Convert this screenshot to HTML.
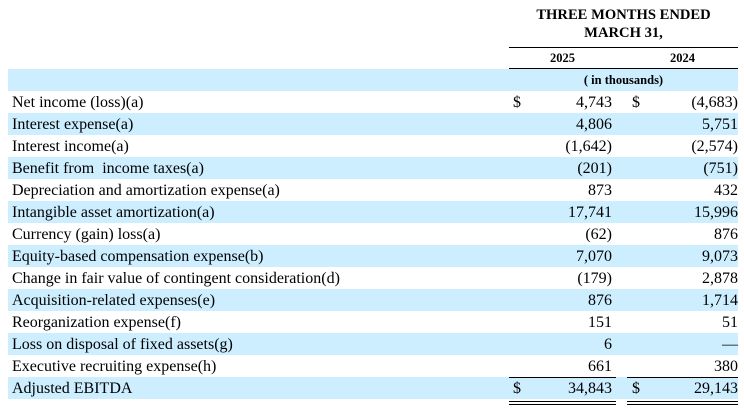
<!DOCTYPE html>
<html><head><meta charset="utf-8"><style>
body{margin:0;width:744px;height:418px;background:#fff;font-family:"Liberation Serif",serif;font-size:16px;color:#000;position:relative;overflow:hidden}
.a{position:absolute}
.row{position:absolute;left:8px;width:730px;height:22px;line-height:23px}
.b{background:#cceeff}
.lbl{position:absolute;left:4px}
.d1{position:absolute;left:505px}
.v1{position:absolute;right:126px}
.d2{position:absolute;left:624px}
.v2{position:absolute;right:0}
.h{font-weight:bold;text-align:center}
.ln{position:absolute;height:1px;background:#000}
</style></head><body>
<div class="a h" style="left:509px;width:229px;top:6px;font-size:14.6px;line-height:18px">THREE MONTHS ENDED<br>MARCH 31,</div>
<div class="ln" style="left:509px;width:229px;top:47px"></div>
<div class="a h" style="left:509px;width:107px;top:48px;line-height:20px;font-size:12.5px">2025</div>
<div class="a h" style="left:627px;width:111px;top:48px;line-height:20px;font-size:12.5px">2024</div>
<div class="ln" style="left:509px;width:229px;top:68px"></div>
<div class="row b" style="top:69px"><span class="a h" style="left:501px;width:229px;font-size:12.5px">( in thousands)</span></div>
<div class="row" style="top:91px"><span class="lbl">Net income (loss)(a)</span><span class="d1">$</span><span class="v1">4,743</span><span class="d2">$</span><span class="v2">(4,683)</span></div>
<div class="row b" style="top:113px"><span class="lbl">Interest expense(a)</span><span class="v1">4,806</span><span class="v2">5,751</span></div>
<div class="row" style="top:135px"><span class="lbl">Interest income(a)</span><span class="v1">(1,642)</span><span class="v2">(2,574)</span></div>
<div class="row b" style="top:157px"><span class="lbl">Benefit from &nbsp;income taxes(a)</span><span class="v1">(201)</span><span class="v2">(751)</span></div>
<div class="row" style="top:179px"><span class="lbl">Depreciation and amortization expense(a)</span><span class="v1">873</span><span class="v2">432</span></div>
<div class="row b" style="top:201px"><span class="lbl">Intangible asset amortization(a)</span><span class="v1">17,741</span><span class="v2">15,996</span></div>
<div class="row" style="top:223px"><span class="lbl">Currency (gain) loss(a)</span><span class="v1">(62)</span><span class="v2">876</span></div>
<div class="row b" style="top:245px"><span class="lbl">Equity-based compensation expense(b)</span><span class="v1">7,070</span><span class="v2">9,073</span></div>
<div class="row" style="top:267px"><span class="lbl">Change in fair value of contingent consideration(d)</span><span class="v1">(179)</span><span class="v2">2,878</span></div>
<div class="row b" style="top:289px"><span class="lbl">Acquisition-related expenses(e)</span><span class="v1">876</span><span class="v2">1,714</span></div>
<div class="row" style="top:311px"><span class="lbl">Reorganization expense(f)</span><span class="v1">151</span><span class="v2">51</span></div>
<div class="row b" style="top:333px"><span class="lbl">Loss on disposal of fixed assets(g)</span><span class="v1">6</span><span class="v2">—</span></div>
<div class="row" style="top:355px"><span class="lbl">Executive recruiting expense(h)</span><span class="v1">661</span><span class="v2">380</span></div>
<div class="row b" style="top:377px"><span class="lbl">Adjusted EBITDA</span><span class="d1">$</span><span class="v1">34,843</span><span class="d2">$</span><span class="v2">29,143</span></div>
<div class="ln" style="left:509px;width:107px;top:377px"></div>
<div class="ln" style="left:627px;width:111px;top:377px"></div>
<div class="ln" style="left:509px;width:107px;top:401px"></div>
<div class="ln" style="left:627px;width:111px;top:401px"></div>
<div class="ln" style="left:509px;width:107px;top:404px"></div>
<div class="ln" style="left:627px;width:111px;top:404px"></div>
</body></html>
